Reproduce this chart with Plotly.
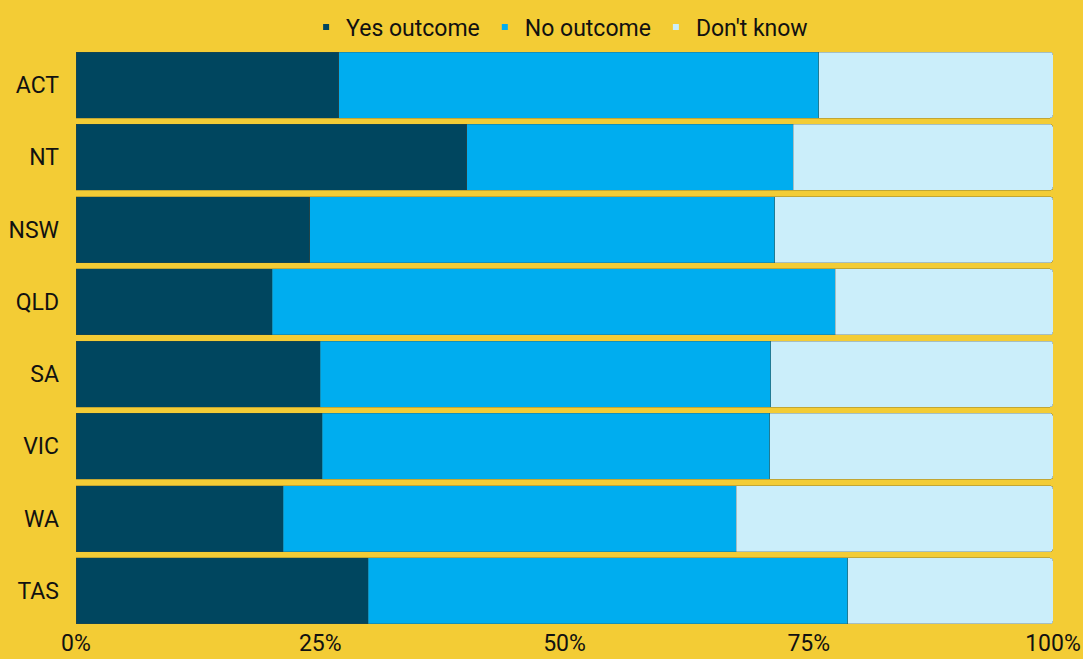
import plotly.graph_objects as go

# Share of responses by state/territory (percent)
states = ["ACT", "NT", "NSW", "QLD", "SA", "VIC", "WA", "TAS"]
yes_outcome = [26.9, 40.0, 23.9, 20.1, 25.0, 25.2, 21.2, 29.9]
no_outcome = [49.1, 33.4, 47.6, 57.6, 46.1, 45.8, 46.4, 49.1]
dont_know = [24.0, 26.6, 28.5, 22.3, 28.9, 29.0, 32.4, 21.0]

series_names = ["Yes outcome", "No outcome", "Don't know"]
series_values = [yes_outcome, no_outcome, dont_know]
series_colors = ["#00465f", "#00adef", "#cbeefa"]

BG = "#f3cc35"
FONT = "Roboto, sans-serif"
FONT_SIZE = 23

fig = go.Figure()

for name, vals, col in zip(series_names, series_values, series_colors):
    fig.add_trace(go.Bar(
        y=states,
        x=vals,
        name=name,
        orientation="h",
        marker=dict(color=col, line=dict(color="rgba(70,70,50,0.35)", width=0.8)),
        showlegend=False,
    ))
    # small square legend swatch
    fig.add_trace(go.Scatter(
        x=[None], y=[None], mode="markers", name=name,
        marker=dict(symbol="square", size=6, color=col),
        showlegend=True,
    ))

fig.update_layout(
    barmode="stack",
    barnorm="percent",
    bargap=0.087,
    barcornerradius=3,
    width=1083,
    height=659,
    paper_bgcolor=BG,
    plot_bgcolor=BG,
    margin=dict(l=76, r=30, t=49, b=32, autoexpand=False),
    font=dict(family=FONT, size=FONT_SIZE, color="#111111"),
    legend=dict(
        orientation="h",
        traceorder="normal",
        x=0.495, xanchor="center",
        yref="container",
        y=1 - 27 / 659, yanchor="middle",
        font=dict(family=FONT, size=FONT_SIZE, color="#111111"),
        itemwidth=30,
        tracegroupgap=0,
        bgcolor="rgba(0,0,0,0)",
    ),
    xaxis=dict(
        range=[0, 100],
        tickvals=[0, 25, 50, 75, 100],
        ticktext=["0%", "25%", "50%", "75%", "100%"],
        showgrid=False,
        zeroline=False,
        showline=False,
        ticklabelstandoff=0,
        automargin=False,
        fixedrange=True,
    ),
    yaxis=dict(
        autorange="reversed",
        showgrid=False,
        zeroline=False,
        showline=False,
        ticklabelstandoff=16,
        automargin=False,
        fixedrange=True,
    ),
)

fig.write_html("out.html")
